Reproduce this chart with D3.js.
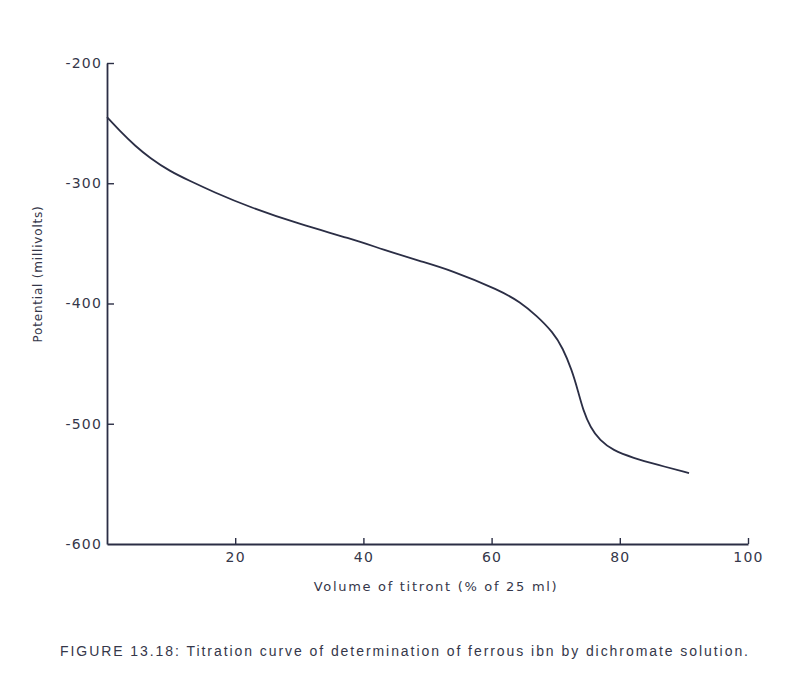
<!DOCTYPE html>
<html lang="en">
<head>
<meta charset="utf-8">
<title>Titration curve</title>
<script src="https://d3js.org/d3.v7.min.js"></script>
<style>
  body { margin: 0; background: #fff; }
  svg text { font-family: "DejaVu Sans", sans-serif; fill: #35374a; }
</style>
</head>
<body>
<div id="chart"></div>
<script>
// values
const volume = [0, 2, 4.4, 6.7, 9.8, 12.9, 16.5, 22.3, 30, 38, 43, 49, 53.5, 61.3, 64.5, 67, 69.6, 71.1, 72.5, 73.5, 74.3, 75.4, 76.9, 78.9, 82.1, 85.8, 90.8];
const potential = [-245, -256.5, -269, -279, -290, -298, -307, -320, -334, -346, -355, -365, -372, -389, -399, -410, -424, -437, -455, -473, -489, -503, -514, -522, -528.5, -534, -541];
const xTicks = [20, 40, 60, 80, 100];
const yTicks = [-200, -300, -400, -500, -600];

const width = 802, height = 687;

const svg = d3.select("#chart").append("svg")
    .attr("width", width)
    .attr("height", height);

// axis box: x 0..100 -> 107..748, y -200..-600 -> 63..544
const x = d3.scaleLinear().domain([0, 100]).range([107, 748]);
const y = d3.scaleLinear().domain([-200, -600]).range([63, 544]);

const ink = "#2b2e45";

// x axis, ticks drawn upward
const xAxis = svg.append("g")
    .attr("transform", `translate(0,${y(-600)})`)
    .call(d3.axisBottom(x).tickValues(xTicks).tickSizeInner(-6).tickSizeOuter(0).tickPadding(8));

// y axis, ticks drawn to the right
const yAxis = svg.append("g")
    .attr("transform", `translate(${x(0)},0)`)
    .call(d3.axisLeft(y).tickValues(yTicks).tickSizeInner(-7).tickSizeOuter(0).tickPadding(5)
        .tickFormat(d => "-" + Math.abs(d)));

[xAxis, yAxis].forEach(g => {
    g.select(".domain").attr("stroke", ink).attr("stroke-width", 1.8);
    g.selectAll(".tick line").attr("stroke", ink).attr("stroke-width", 1.4);
    g.selectAll(".tick text")
        .style("font-family", "DejaVu Sans, sans-serif")
        .style("font-size", "14px")
        .style("letter-spacing", "1.2px")
        .attr("fill", "#35374a");
});
yAxis.select(".tick:last-of-type line").remove();

// curve
const points = volume.map((v, i) => [v, potential[i]]);
const line = d3.line()
    .x(d => x(d[0]))
    .y(d => y(d[1]))
    .curve(d3.curveBasis);

svg.append("path")
    .datum(points)
    .attr("d", line)
    .attr("fill", "none")
    .attr("stroke", ink)
    .attr("stroke-width", 1.8);

// axis titles
svg.append("text")
    .attr("x", 436)
    .attr("y", 591)
    .attr("text-anchor", "middle")
    .style("font-size", "13px")
    .style("letter-spacing", "1.7px")
    .text("Volume of titront (% of 25 ml)");

svg.append("text")
    .attr("transform", "translate(42,274) rotate(-90)")
    .attr("text-anchor", "middle")
    .style("font-size", "12px")
    .style("letter-spacing", "0.8px")
    .text("Potential (millivolts)");

// caption
svg.append("text")
    .attr("x", 60)
    .attr("y", 656)
    .attr("textLength", 688)
    .attr("lengthAdjust", "spacing")
    .style("font-family", "Liberation Sans, sans-serif")
    .style("font-size", "14px")
    .attr("fill", "#222")
    .text("FIGURE 13.18: Titration curve of determination of ferrous ibn by dichromate solution.");
</script>
</body>
</html>
